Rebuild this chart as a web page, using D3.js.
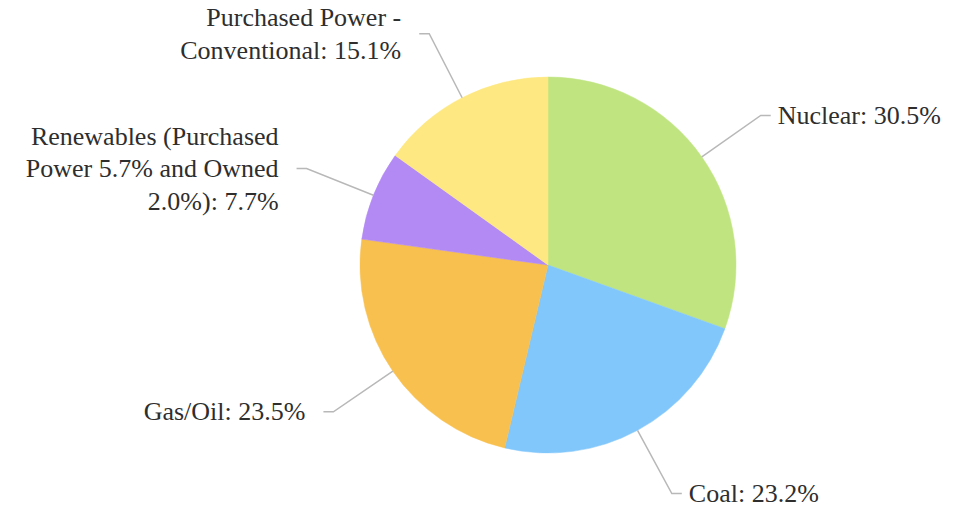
<!DOCTYPE html>
<html>
<head>
<meta charset="utf-8">
<script src="https://cdn.jsdelivr.net/npm/d3@7"></script>
<style>
  html, body { margin: 0; padding: 0; background: #ffffff; }
  svg { display: block; }
</style>
</head>
<body>
<svg id="chart" width="956" height="512" style="font-family: 'Liberation Serif', 'Times New Roman', serif;"></svg>
<script>
const categories = ["Nuclear", "Coal", "Gas/Oil", "Renewables", "Purchased Power - Conventional"];
const values = [30.5, 23.2, 23.5, 7.7, 15.1];
const labelLines = [
  ["Nuclear: 30.5%"],
  ["Coal: 23.2%"],
  ["Gas/Oil: 23.5%"],
  ["Renewables (Purchased", "Power 5.7% and Owned", "2.0%): 7.7%"],
  ["Purchased Power -", "Conventional: 15.1%"]
];
const colors = ["#bfe480", "#82c7fb", "#f8c04f", "#b38af4", "#fde882"];

const svg = d3.select("#chart");
const cx = 548, cy = 265, r = 188;
const elbowR = 260, hLen = 10, gapR = 7, gapL = 18;
const fontSize = 26, lineH = 32.5;

const data = categories.map((c, i) => ({ name: c, value: values[i], lines: labelLines[i], color: colors[i] }));
const pie = d3.pie().value(d => d.value).sort(null);
const arcs = pie(data);
const arc = d3.arc().innerRadius(0).outerRadius(r);

const slices = svg.append("g");
slices.selectAll("path.slice")
  .data(arcs)
  .enter().append("path")
  .attr("class", "slice")
  .attr("transform", `translate(${cx},${cy})`)
  .attr("d", arc)
  .attr("fill", d => d.data.color)
  .attr("stroke", d => d.data.color)
  .attr("stroke-width", 0.5);

const pt = (a, rad) => [cx + Math.sin(a) * rad, cy - Math.cos(a) * rad];

arcs.forEach(d => {
  const mid = (d.startAngle + d.endAngle) / 2;
  const p0 = pt(mid, r);
  const p1 = pt(mid, elbowR);
  const right = Math.sin(mid) >= 0;
  const p2 = [p1[0] + (right ? hLen : -hLen), p1[1]];
  svg.append("polyline")
    .attr("points", [p0, p1, p2].map(p => p.join(",")).join(" "))
    .attr("fill", "none")
    .attr("stroke", "#b8b8b8")
    .attr("stroke-width", 1.5);

  const n = d.data.lines.length;
  const tx = p2[0] + (right ? gapR : -gapL);
  d.data.lines.forEach((line, i) => {
    svg.append("text")
      .attr("x", tx)
      .attr("y", p2[1] + (i - (n - 1) / 2) * lineH + fontSize * 0.33)
      .style("text-anchor", right ? "start" : "end")
      .style("font-family", '"Liberation Serif"')
      .style("font-size", fontSize + "px")
      .style("fill", "#2e2e2e")
      .text(line);
  });
});
</script>
</body>
</html>
